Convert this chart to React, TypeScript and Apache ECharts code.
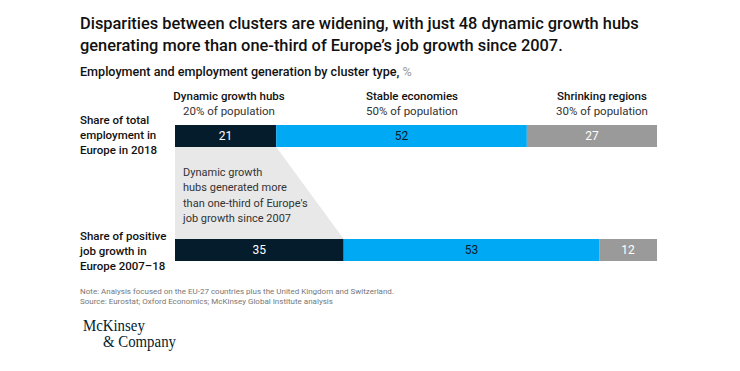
import React, { useEffect, useRef } from "react";
import * as echarts from "echarts";

const rows = ["Share of total employment in Europe in 2018", "Share of positive job growth in Europe 2007–18"];
const rowLabelLines = [
  ["Share of total", "employment in", "Europe in 2018"],
  ["Share of positive", "job growth in", "Europe 2007–18"],
];
const clusters = ["Dynamic growth hubs", "Stable economies", "Shrinking regions"];
const populationShare = ["20% of population", "50% of population", "30% of population"];
const dynamicValues = [21, 35];
const stableValues = [52, 53];
const shrinkingValues = [27, 12];
const calloutLines = ["Dynamic growth", "hubs generated more", "than one-third of Europe's", "job growth since 2007"];

const NAVY = "#051c2c";
const BLUE = "#00a9f4";
const GRAY = "#9a9a9a";
const FONT = "Roboto, 'Liberation Sans', sans-serif";
const SERIF = "'Liberation Serif', 'DejaVu Serif', serif";

export default function App() {
  const ref = useRef<HTMLDivElement>(null);
  useEffect(() => {
    if (!ref.current) return;
    const chart = echarts.init(ref.current, undefined, { renderer: "svg" });
    const barW = 22;
    const labelStyle = (color: string) => ({
      show: true,
      position: "inside" as const,
      color,
      fontFamily: FONT,
      fontSize: 12,
    });
    const graphics: any[] = [
      {
        type: "text",
        left: 80,
        top: 13,
        style: {
          text: "Disparities between clusters are widening, with just 48 dynamic growth hubs\ngenerating more than one-third of Europe’s job growth since 2007.",
          fontFamily: FONT,
          fontSize: 16.4,
          fontWeight: 500,
          lineHeight: 21.5,
          fill: "#111",
        },
      },
      {
        type: "text",
        left: 80,
        top: 65,
        style: {
          text: "{a|Employment and employment generation by cluster type, }{b|%}",
          rich: {
            a: { fontFamily: FONT, fontSize: 12.6, fontWeight: 500, fill: "#111" },
            b: { fontFamily: FONT, fontSize: 12.6, fill: "#999" },
          },
        },
      },
    ];
    const headerX = [229, 412, 602];
    clusters.forEach((c, i) => {
      graphics.push({
        type: "text",
        x: headerX[i],
        y: 96,
        style: { text: c, fontFamily: FONT, fontSize: 11.5, fontWeight: 500, fill: "#111", textAlign: "center", textVerticalAlign: "middle" },
      });
      graphics.push({
        type: "text",
        x: headerX[i],
        y: 111,
        style: { text: populationShare[i], fontFamily: FONT, fontSize: 11.5, fill: "#333", textAlign: "center", textVerticalAlign: "middle" },
      });
    });
    const rowY = [120, 236];
    rowLabelLines.forEach((lines, r) => {
      lines.forEach((t, k) => {
        graphics.push({
          type: "text",
          x: 80,
          y: rowY[r] + k * 15,
          style: { text: t, fontFamily: FONT, fontSize: 11.5, fontWeight: 500, fill: "#111", textVerticalAlign: "middle" },
        });
      });
    });
    calloutLines.forEach((t, k) => {
      graphics.push({
        type: "text",
        x: 183,
        y: 172 + k * 15.5,
        z: 10,
        style: { text: t, fontFamily: FONT, fontSize: 11, fill: "#333", textVerticalAlign: "middle" },
      });
    });
    graphics.push({
      type: "text",
      left: 80,
      top: 286,
      style: {
        text: "Note: Analysis focused on the EU-27 countries plus the United Kingdom and Switzerland.\nSource: Eurostat; Oxford Economics; McKinsey Global Institute analysis",
        fontFamily: FONT,
        fontSize: 8,
        lineHeight: 10.5,
        fill: "#777",
      },
    });
    graphics.push({
      type: "text",
      x: 83,
      y: 325,
      scaleX: 0.9,
      style: { text: "McKinsey", fontFamily: SERIF, fontSize: 16.5, fill: NAVY, textVerticalAlign: "middle" },
    });
    graphics.push({
      type: "text",
      x: 103,
      y: 341,
      scaleX: 0.9,
      style: { text: "& Company", fontFamily: SERIF, fontSize: 16.5, fill: NAVY, textVerticalAlign: "middle" },
    });

    chart.setOption({
      animation: false,
      grid: { left: 175, right: 83, top: 79, bottom: 64 },
      xAxis: { type: "value", min: 0, max: 100, show: false },
      yAxis: { type: "category", data: rows, inverse: true, show: false },
      graphic: graphics,
      series: [
        {
          type: "custom",
          z: 1,
          data: [[dynamicValues[0], dynamicValues[1]]],
          renderItem: (params: any, api: any) => {
            const a = api.value(0);
            const b = api.value(1);
            const p0 = api.coord([0, 0]);
            const p1 = api.coord([a, 0]);
            const p2 = api.coord([b, 1]);
            const p3 = api.coord([0, 1]);
            const h = barW / 2;
            return {
              type: "polygon",
              shape: {
                points: [
                  [p0[0], p0[1] + h],
                  [p1[0], p1[1] + h],
                  [p2[0], p2[1] - h],
                  [p3[0], p3[1] - h],
                ],
              },
              style: { fill: "#e8e8e8" },
            };
          },
        },
        {
          type: "bar",
          stack: "s",
          barWidth: barW,
          z: 2,
          data: dynamicValues,
          itemStyle: { color: NAVY },
          label: labelStyle("#fff"),
        },
        {
          type: "bar",
          stack: "s",
          barWidth: barW,
          z: 2,
          data: stableValues,
          itemStyle: { color: BLUE },
          label: labelStyle(NAVY),
        },
        {
          type: "bar",
          stack: "s",
          barWidth: barW,
          z: 2,
          data: shrinkingValues,
          itemStyle: { color: GRAY },
          label: labelStyle("#fff"),
        },
      ],
    });
    return () => chart.dispose();
  }, []);
  return <div ref={ref} style={{ width: 740, height: 371, position: "absolute", left: 0, top: 0, background: "#fff" }} />;
}
